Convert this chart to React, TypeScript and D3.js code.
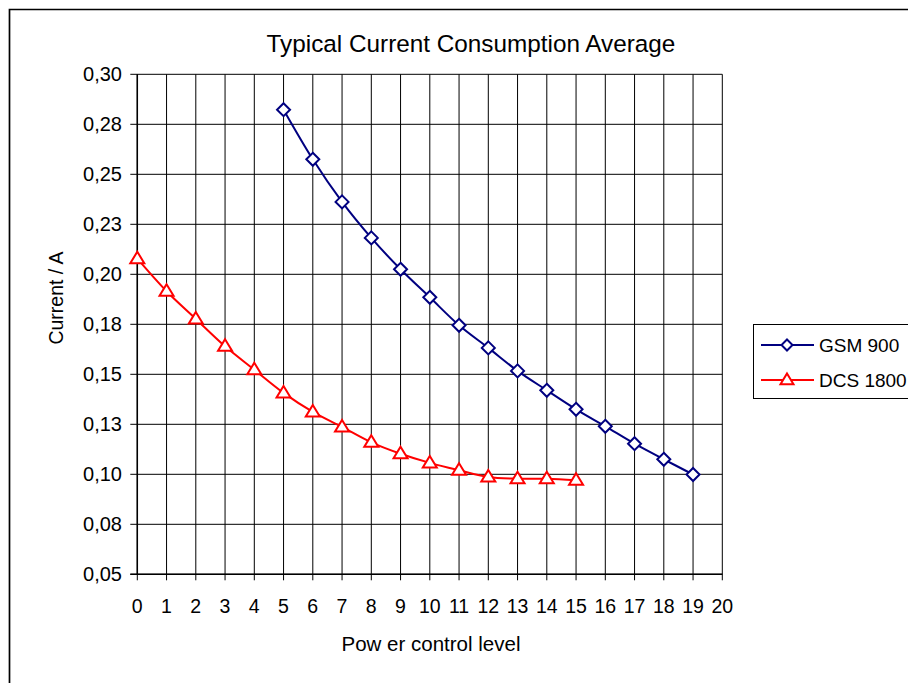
import React from "react";
import * as d3 from "d3";

const gsmLevels = [5, 6, 7, 8, 9, 10, 11, 12, 13, 14, 15, 16, 17, 18, 19];
const gsmValues = [0.2823, 0.2575, 0.2362, 0.2182, 0.2025, 0.1885, 0.1745, 0.1632, 0.1517, 0.142, 0.1325, 0.124, 0.1153, 0.1075, 0.0999];
const dcsLevels = [0, 1, 2, 3, 4, 5, 6, 7, 8, 9, 10, 11, 12, 13, 14, 15];
const dcsValues = [0.2078, 0.1915, 0.1777, 0.164, 0.1523, 0.1407, 0.1312, 0.1237, 0.116, 0.1103, 0.1057, 0.102, 0.0987, 0.0978, 0.0978, 0.097];
const xTicks = d3.range(0, 21);
const yTickValues = [0.3, 0.275, 0.25, 0.225, 0.2, 0.175, 0.15, 0.125, 0.1, 0.075, 0.05];
const yTickLabels = ["0,30", "0,28", "0,25", "0,23", "0,20", "0,18", "0,15", "0,13", "0,10", "0,08", "0,05"];
const seriesNames = ["GSM 900", "DCS 1800"];
const titleText = "Typical Current Consumption Average";
const xTitle = "Pow er control level";
const yTitle = "Current / A";

const W = 908, H = 683;
const plot = { left: 137.3, right: 722.3, top: 74.3, bottom: 574.3 };
const FONT = "'Liberation Sans', Arial, sans-serif";
const NAVY = "#000080";
const RED = "#FF0000";

export default function App() {
  const x = d3.scaleLinear().domain([0, 20]).range([plot.left, plot.right]);
  const y = d3.scaleLinear().domain([0.05, 0.3]).range([plot.bottom, plot.top]);
  const line = d3.line<[number, number]>()
    .x((d) => x(d[0]))
    .y((d) => y(d[1]))
    .curve(d3.curveCardinal.tension(0));
  const gsm: [number, number][] = gsmLevels.map((l, i) => [l, gsmValues[i]]);
  const dcs: [number, number][] = dcsLevels.map((l, i) => [l, dcsValues[i]]);

  const diamond = (cx: number, cy: number, r = 6.5) =>
    `M${cx},${cy - r}L${cx + r},${cy}L${cx},${cy + r}L${cx - r},${cy}Z`;
  const triangle = (cx: number, cy: number, r = 7) =>
    `M${cx},${cy - r}L${cx + r},${cy + r * 0.65}L${cx - r},${cy + r * 0.65}Z`;

  return (
    <svg width={W} height={H} style={{ position: "absolute", left: 0, top: 0, background: "#fff" }} fontFamily={FONT}>
      <rect x={0} y={0} width={W} height={H} fill="#fff" />
      <path d={`M9.5,${H + 5}V9.5H${W + 5}`} fill="none" stroke="#000" strokeWidth={1.7} />
      <text x={471} y={52} fontSize={24.3} textAnchor="middle" fill="#000">{titleText}</text>

      {/* grid */}
      {xTicks.map((t) => (
        <line key={"gx" + t} x1={x(t)} x2={x(t)} y1={plot.top} y2={plot.bottom + 6} stroke="#000" strokeWidth={1} />
      ))}
      {yTickValues.map((t) => (
        <line key={"gy" + t} x1={plot.left - 7} x2={plot.right} y1={y(t)} y2={y(t)} stroke="#000" strokeWidth={1} />
      ))}
      <line x1={plot.left} x2={plot.left} y1={plot.top} y2={plot.bottom} stroke="#000" strokeWidth={1.5} />
      <line x1={plot.left - 7} x2={plot.right} y1={plot.bottom} y2={plot.bottom} stroke="#000" strokeWidth={1.5} />

      {yTickValues.map((t, i) => (
        <text key={"yl" + t} x={122} y={y(t) + 7} fontSize={20} textAnchor="end" fill="#000">{yTickLabels[i]}</text>
      ))}
      {xTicks.map((t) => (
        <text key={"xl" + t} x={x(t)} y={613} fontSize={19.5} textAnchor="middle" fill="#000">{t}</text>
      ))}
      <text x={431} y={651} fontSize={20.5} textAnchor="middle" fill="#000">{xTitle}</text>
      <text transform="translate(63,298) rotate(-90)" fontSize={19.5} textAnchor="middle" fill="#000">{yTitle}</text>

      {/* series */}
      <path d={line(gsm) || ""} fill="none" stroke={NAVY} strokeWidth={2} />
      <path d={line(dcs) || ""} fill="none" stroke={RED} strokeWidth={2} />
      {gsm.map((d, i) => (
        <path key={"gm" + i} d={diamond(x(d[0]), y(d[1]))} fill="#fff" stroke={NAVY} strokeWidth={2} />
      ))}
      {dcs.map((d, i) => (
        <path key={"dm" + i} d={triangle(x(d[0]), y(d[1]))} fill="#fff" stroke={RED} strokeWidth={2} />
      ))}

      {/* legend */}
      <rect x={753.5} y={324.5} width={200} height={74} fill="#fff" stroke="#000" strokeWidth={1} />
      <line x1={761} x2={814} y1={345} y2={345} stroke={NAVY} strokeWidth={2} />
      <path d={diamond(787, 345, 5.5)} fill="#fff" stroke={NAVY} strokeWidth={2} />
      <text x={819} y={352} fontSize={19} fill="#000">{seriesNames[0]}</text>
      <line x1={761} x2={814} y1={380} y2={380} stroke={RED} strokeWidth={2} />
      <path d={triangle(787, 380, 6.5)} fill="#fff" stroke={RED} strokeWidth={2} />
      <text x={819} y={387} fontSize={19} fill="#000">{seriesNames[1]}</text>
    </svg>
  );
}
